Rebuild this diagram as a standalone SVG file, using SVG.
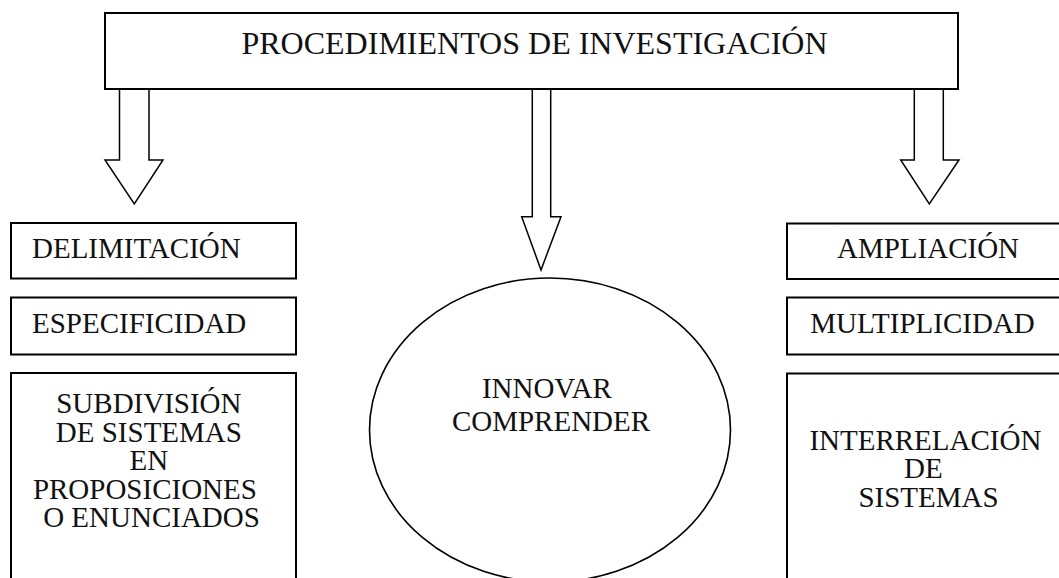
<svg xmlns="http://www.w3.org/2000/svg" width="1059" height="578" viewBox="0 0 1059 578">
<style>
.box{fill:#fff;stroke:#000;stroke-width:2}
.arr{fill:#fff;stroke:#000;stroke-width:1.5;stroke-linejoin:miter}
.t{font-family:"Liberation Serif","Times New Roman",serif;font-size:29px;fill:#111}
.ti{font-family:"Liberation Serif","Times New Roman",serif;font-size:32px;fill:#111}
</style>
<rect width="1059" height="578" fill="#fff"/>
<g id="connectors">
<path class="arr" d="M119.5,89 V160 H105 L134.3,204 L163,160 H149 V89"/>
<path class="arr" d="M532.3,89 V216.7 H521.7 L541,270 L561,216.7 H550.7 V89"/>
<path class="arr" d="M914.3,89 V160 H900.7 L929.3,204 L959,160 H943.3 V89"/>
</g>
<g id="title">
<rect class="box" x="105" y="13" width="853" height="76"/>
<text class="ti" x="534.5" y="54" text-anchor="middle">PROCEDIMIENTOS DE INVESTIGACIÓN</text>
</g>
<g id="delimitacion">
<rect class="box" x="11" y="223" width="285" height="55.5"/>
<text class="t" x="32" y="257.5">DELIMITACIÓN</text>
</g>
<g id="especificidad">
<rect class="box" x="11" y="297.5" width="285" height="57"/>
<text class="t" x="32" y="333">ESPECIFICIDAD</text>
</g>
<g id="subdivision">
<rect class="box" x="11" y="373" width="285" height="220"/>
<text class="t" text-anchor="middle">
<tspan x="152.5" y="413">SUBDIVISIÓN</tspan>
<tspan x="152.5" y="441.5">DE SISTEMAS</tspan>
<tspan x="152.5" y="470">EN</tspan>
<tspan x="148.5" y="498.5">PROPOSICIONES</tspan>
<tspan x="151.5" y="527">O ENUNCIADOS</tspan>
</text>
</g>
<g id="innovar">
<ellipse cx="550" cy="430" rx="180.5" ry="152" fill="#fff" stroke="#000" stroke-width="1.6"/>
<text class="t" text-anchor="middle">
<tspan x="550.5" y="397.5">INNOVAR</tspan>
<tspan x="551" y="431">COMPRENDER</tspan>
</text>
</g>
<g id="ampliacion">
<rect class="box" x="787" y="223.5" width="290" height="55.5"/>
<text class="t" x="928" y="257.5" text-anchor="middle">AMPLIACIÓN</text>
</g>
<g id="multiplicidad">
<rect class="box" x="787" y="297.5" width="290" height="57"/>
<text class="t" x="922.5" y="333" text-anchor="middle">MULTIPLICIDAD</text>
</g>
<g id="interrelacion">
<rect class="box" x="787" y="373.5" width="290" height="220"/>
<text class="t" text-anchor="middle">
<tspan x="929" y="450">INTERRELACIÓN</tspan>
<tspan x="927" y="478">DE</tspan>
<tspan x="928.5" y="506.5">SISTEMAS</tspan>
</text>
</g>
</svg>
